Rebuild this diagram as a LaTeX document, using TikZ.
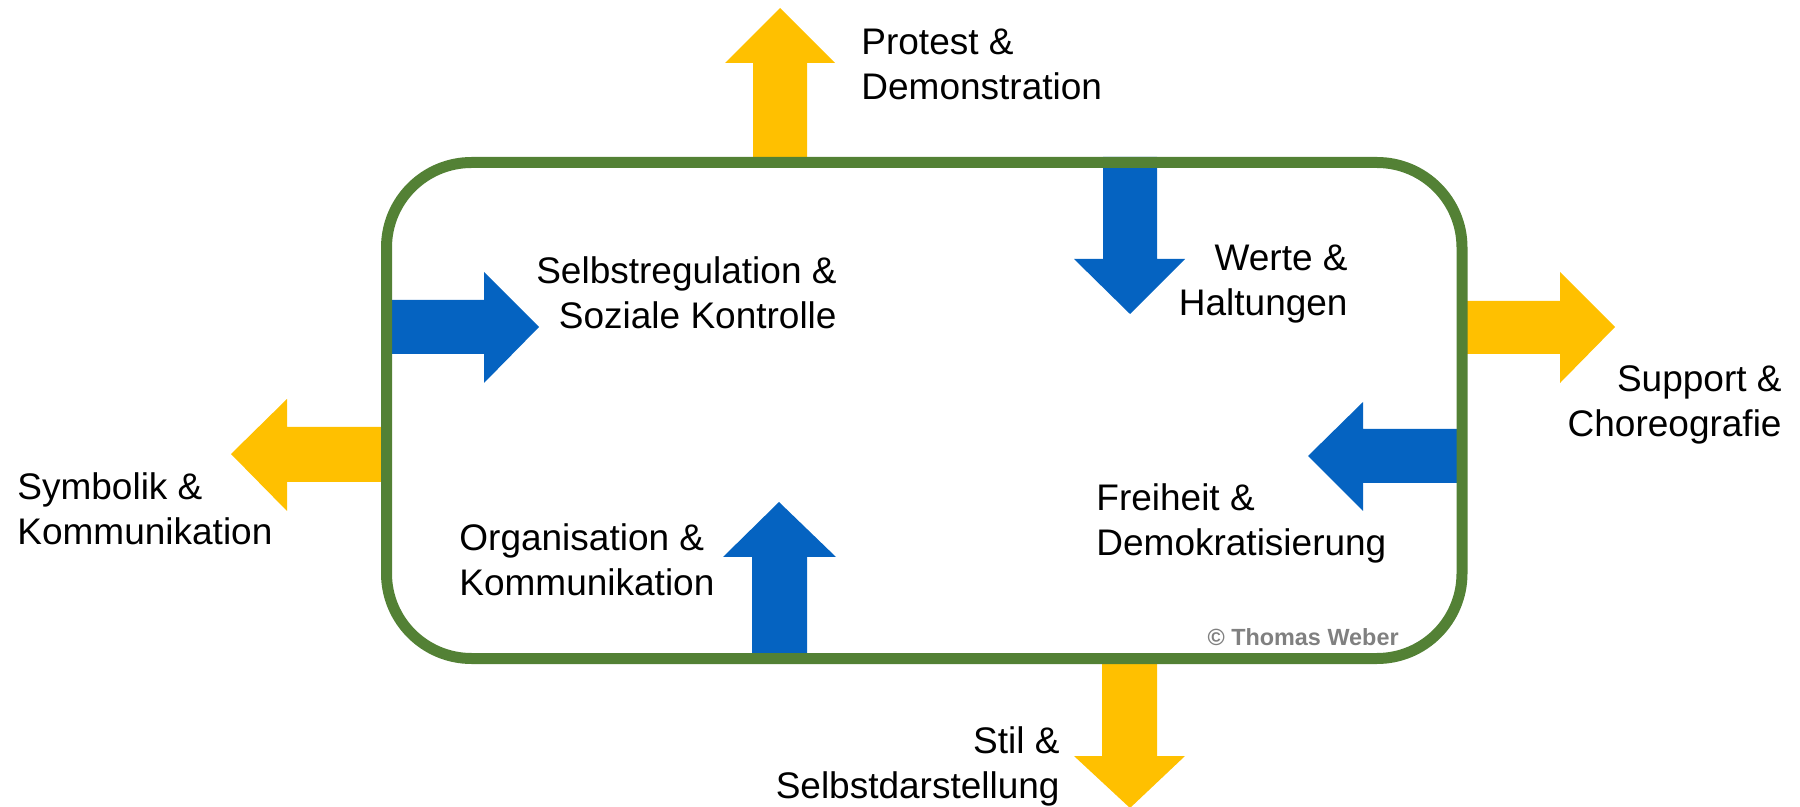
\documentclass[tikz,border=0pt]{standalone}
\usepackage{fontspec}
\setmainfont{Liberation Sans}
\definecolor{boxgreen}{HTML}{538135}
\definecolor{arryellow}{HTML}{FFC000}
\definecolor{arrblue}{HTML}{0563C1}
\definecolor{copygray}{HTML}{808080}
\begin{document}
\begin{tikzpicture}[x=0.5pt,y=-0.5pt,
  lbl/.style={inner sep=0pt, font=\fontsize{18.5pt}{22.5pt}\selectfont},
  lblL/.style={lbl, anchor=base west, align=left},
  lblR/.style={lbl, anchor=base east, align=right},
  yarrow/.style={fill=arryellow},
  barrow/.style={fill=arrblue},
  frame/.style={draw=boxgreen, line width=5.5pt, rounded corners=42.5pt}]
\useasboundingbox (0,0) rectangle (1800,807);
% arrows (drawn below the frame)
% top yellow up
\fill[yarrow] (753,163) -- (753,63) -- (725,63) -- (780,8) -- (835,63) -- (807,63) -- (807,163) -- cycle;
% top blue down
\fill[barrow] (1103,157) -- (1103,259) -- (1074,259) -- (1130,314) -- (1185,259) -- (1157,259) -- (1157,157) -- cycle;
% right yellow
\fill[yarrow] (1462,301) -- (1560,301) -- (1560,272) -- (1615,327) -- (1560,383) -- (1560,354) -- (1462,354) -- cycle;
% right blue left-pointing
\fill[barrow] (1462,429) -- (1363,429) -- (1363,402) -- (1308,456) -- (1363,511) -- (1363,483) -- (1462,483) -- cycle;
% left blue right-pointing
\fill[barrow] (386,300) -- (484,300) -- (484,272) -- (539,327) -- (484,383) -- (484,354) -- (386,354) -- cycle;
% left yellow
\fill[yarrow] (386,427) -- (287,427) -- (287,399) -- (231,454) -- (287,511) -- (287,482) -- (386,482) -- cycle;
% bottom blue up
\fill[barrow] (752,658) -- (752,557) -- (723,557) -- (779,502) -- (836,557) -- (807,557) -- (807,658) -- cycle;
% bottom yellow down
\fill[yarrow] (1102,658) -- (1102,756) -- (1074,756) -- (1130,808) -- (1185,756) -- (1157,756) -- (1157,658) -- cycle;
% frame
\draw[frame] (386.5,162.5) rectangle (1462,658.5);
% labels (base anchor = baseline of the last line)
\node[lblL] (protest) at (861,100) {Protest \&\\Demonstration};
\node[lblR] (selbst) at (837,329) {Selbstregulation \&\\Soziale Kontrolle};
\node[lblR] (werte) at (1348,316) {Werte \&\\Haltungen};
\node[lblR] (support) at (1782,437) {Support \&\\Choreografie};
\node[lblL] (freiheit) at (1096,555) {Freiheit \&\\Demokratisierung};
\node[lblL] (symbolik) at (17,545) {Symbolik \&\\Kommunikation};
\node[lblL] (organisation) at (459,596) {Organisation \&\\Kommunikation};
\node[lblR] (stil) at (1060,798) {Stil \&\\Selbstdarstellung};
\node[inner sep=0pt, anchor=base east, text=copygray, font=\fontsize{11.7pt}{13pt}\selectfont\bfseries] (copy) at (1399,645) {© Thomas Weber};
\end{tikzpicture}
\end{document}
